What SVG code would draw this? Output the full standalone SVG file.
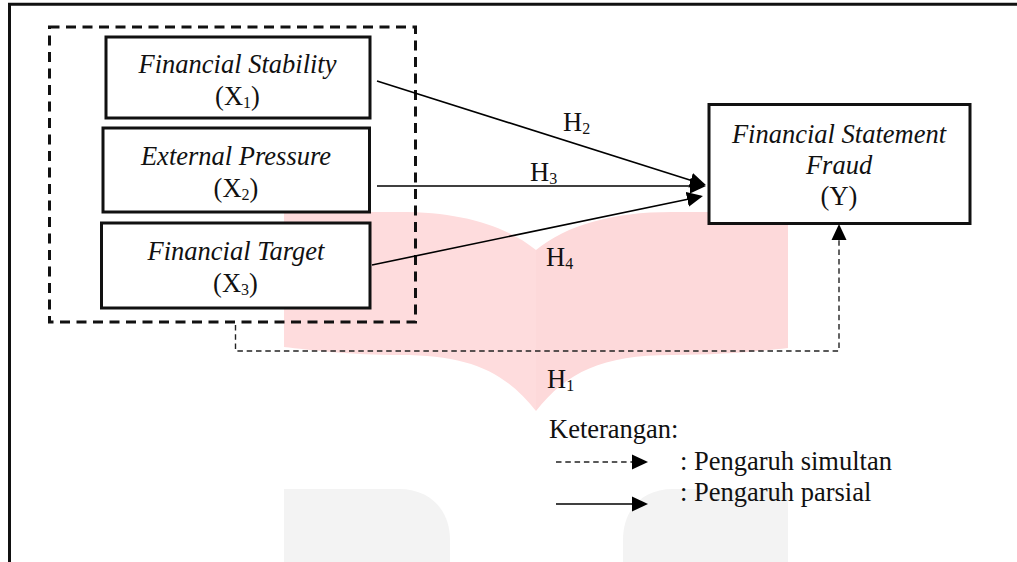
<svg xmlns="http://www.w3.org/2000/svg" width="1017" height="562" viewBox="0 0 1017 562">
<style>
text{font-family:"Liberation Serif","Times New Roman",serif;font-size:26.5px;fill:#111}
.c{text-anchor:middle}
.i{font-style:italic}
.s{font-size:16px}
.box{fill:#fff;stroke:#111;stroke-width:3}
.sol{fill:none;stroke:#000;stroke-width:1.6}
.dash{fill:none;stroke:#222;stroke-width:1.4;stroke-dasharray:5.500 3.800}
</style>
<defs>
<marker id="ah" markerUnits="userSpaceOnUse" markerWidth="17" markerHeight="16" refX="14" refY="8" orient="auto"><path d="M0,0.5 L16,8 L0,15.5 Z" fill="#000"/></marker>
</defs>
<rect width="1017" height="562" fill="#fff"/>
<g id="watermark">
<path d="M284,212 H400 C460,212 505,225 536,250 V411 C505,372 470,355 400,355 C350,355 310,350 284,347 Z" fill="#fedcdd"/>
<path d="M788,212 H672 C612,212 567,225 536,250 V411 C567,372 602,355 672,355 C722,355 762,351 788,348 Z" fill="#fdd9da"/>
<path d="M284,562 V489 H399 C430,489 450,510 450,540 V562 Z" fill="#f3f3f3"/>
<path d="M788,562 V489 H673 C642,489 623,510 623,540 V562 Z" fill="#f3f3f3"/>
</g>
<path id="frame" d="M1017,4.3 H9.5 V562" fill="none" stroke="#111" stroke-width="3"/>
<rect id="group-box" x="49.500" y="27" width="366" height="295" fill="none" stroke="#111" stroke-width="3" stroke-dasharray="10 6.500"/>
<g id="x1"><rect class="box" x="106" y="37" width="264" height="81"/><text class="c i" x="237.500" y="73">Financial Stability</text><text class="c" x="237.500" y="105">(X<tspan class="s" dy="3">1</tspan><tspan dy="-3">)</tspan></text></g>
<g id="x2"><rect class="box" x="103" y="128" width="266.500" height="84"/><text class="c i" x="236" y="165">External Pressure</text><text class="c" x="236" y="197">(X<tspan class="s" dy="3">2</tspan><tspan dy="-3">)</tspan></text></g>
<g id="x3"><rect class="box" x="101.500" y="223" width="268.500" height="85"/><text class="c i" x="236" y="260">Financial Target</text><text class="c" x="235.500" y="292">(X<tspan class="s" dy="3">3</tspan><tspan dy="-3">)</tspan></text></g>
<g id="y"><rect class="box" x="709" y="104.500" width="261" height="119"/><text class="c i" x="839" y="143">Financial Statement</text><text class="c i" x="839" y="174">Fraud</text><text class="c" x="839" y="205">(Y)</text></g>
<g id="connectors">
<path class="sol" d="M377,81 L704,184.500" marker-end="url(#ah)"/>
<path class="sol" d="M377,186 H704" marker-end="url(#ah)"/>
<path class="sol" d="M372,265 L701,196.500" marker-end="url(#ah)"/>
<path class="dash" d="M235.500,325 V351 H839 V226" marker-end="url(#ah)"/>
<path class="dash" d="M556,462 H646" marker-end="url(#ah)"/>
<path class="sol" d="M556,504 H646" marker-end="url(#ah)"/>
</g>
<g id="labels">
<text x="563" y="131">H<tspan class="s" dy="3">2</tspan></text>
<text x="530" y="181">H<tspan class="s" dy="3">3</tspan></text>
<text x="546" y="266">H<tspan class="s" dy="3">4</tspan></text>
<text x="547" y="388">H<tspan class="s" dy="3">1</tspan></text>
<text x="549" y="438">Keterangan:</text>
<text x="680" y="470">: Pengaruh simultan</text>
<text x="680" y="501">: Pengaruh parsial</text>
</g>
</svg>
